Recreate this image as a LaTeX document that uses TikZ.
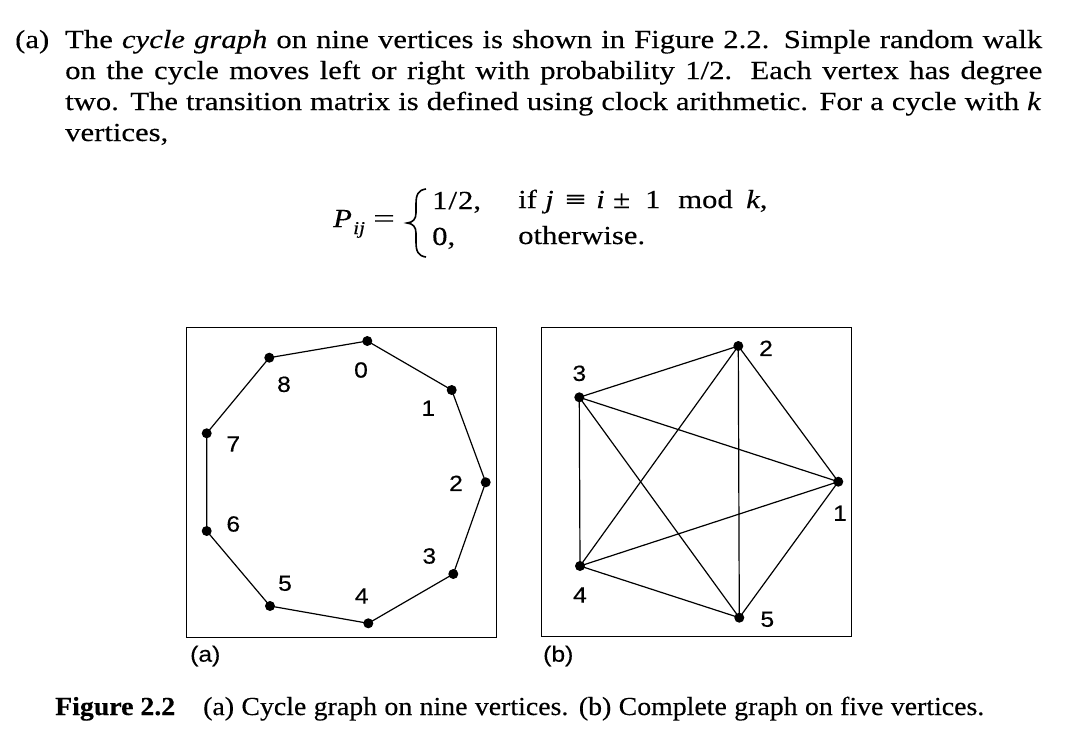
\documentclass[tikz,border=0pt]{standalone}
\usepackage{fontspec}
\usepackage{graphicx}
\setmainfont{Liberation Serif}[FakeStretch=1.18,FakeBold=0.3]
\newfontfamily\capfont{Liberation Serif}[FakeStretch=1.07,FakeBold=0.3]
\newfontfamily\lblfont{Liberation Sans}[FakeStretch=1.12,FakeBold=0.3]
\tikzset{
  body/.style={anchor=base west, inner sep=0pt, font=\fontsize{26}{31}\selectfont},
  subtxt/.style={anchor=base west, inner sep=0pt, font=\fontsize{18}{20}\selectfont\itshape},
  captxt/.style={anchor=base west, inner sep=0pt, font=\capfont\fontsize{26}{31}\selectfont},
  vtx/.style={circle, fill=black, inner sep=0pt, minimum size=10pt},
  lbl/.style={inner sep=0pt, font=\lblfont\fontsize{22}{26}\selectfont},
  edge/.style={line width=1.2pt},
  frame/.style={line width=1pt},
  bracestyle/.style={line width=1.6pt}
}
\begin{document}
\begin{tikzpicture}[x=1pt,y=-1pt]
\useasboundingbox (0,0) rectangle (1068,742);
% paragraph
\node[body] (t1a) at (15,48) {(a)};
\node[body] (t1) at (65,48) {\makebox[977pt][s]{The \textit{cycle graph} on nine vertices is shown in Figure 2.2. Simple random walk}};
\node[body] (t2) at (65,79) {\makebox[977pt][s]{on the cycle moves left or right with probability 1/2. Each vertex has degree}};
\node[body] (t3) at (65,110) {\makebox[976pt][s]{two. The transition matrix is defined using clock arithmetic. For a cycle with \textit{k}}};
\node[body] (t4) at (65,141) {vertices,};
% equation
\node[body] (eP) at (333,227) {\textit{P}};
\node[subtxt] (eij) at (353,234) {ij};
\node[body] (eeq) at (373,227) {\scalebox{1.25}[1]{=}};
\draw[bracestyle] (426,189) .. controls (418,190) and (416,195) .. (416,204) -- (416,213)
  .. controls (416,219) and (413,222.5) .. (407,223)
  .. controls (413,223.5) and (416,227) .. (416,233) -- (416,242)
  .. controls (416,251) and (418,256) .. (426,257);
\node[body] (ea) at (432,209) {1\kern1pt/\kern1pt2,};
\node[body] (eb) at (432,245) {0,};
\node[body] (eif) at (518,208) {if};
\node[body] (ej) at (545,208) {\textit{j}};
\node[body] (eeqv) at (565,208) {\scalebox{1.2}[1]{≡}};
\node[body] (ei) at (596,208) {\textit{i}};
\node[body] (epm) at (613,208) {±};
\node[body] (eone) at (645,208) {1};
\node[body] (emod) at (678,208) {mod};
\node[body] (ek) at (746,208) {\textit{k},};
\node[body] (eoth) at (518,244) {otherwise.};
% box (a)
\draw[frame] (186.5,327) rectangle (496.5,637);
\node[vtx] (a0) at (367.3,341) {};
\node[vtx] (a1) at (451.7,390) {};
\node[vtx] (a2) at (485.7,482.3) {};
\node[vtx] (a3) at (453.3,574) {};
\node[vtx] (a4) at (368.3,623.3) {};
\node[vtx] (a5) at (270,606) {};
\node[vtx] (a6) at (206.7,531) {};
\node[vtx] (a7) at (206.7,433.3) {};
\node[vtx] (a8) at (269.3,357.7) {};
\draw[edge] (a0.center) -- (a1.center) -- (a2.center) -- (a3.center) -- (a4.center)
  -- (a5.center) -- (a6.center) -- (a7.center) -- (a8.center) -- (a0.center);
\node[lbl] (la0) at (361,370) {0};
\node[lbl] (la1) at (428.3,408.3) {1};
\node[lbl] (la2) at (456,483.3) {2};
\node[lbl] (la3) at (429.3,556) {3};
\node[lbl] (la4) at (361.7,596) {4};
\node[lbl] (la5) at (285,583.3) {5};
\node[lbl] (la6) at (233.3,524) {6};
\node[lbl] (la7) at (233.3,444) {7};
\node[lbl] (la8) at (284,384.3) {8};
\node[lbl, anchor=west] (capa) at (190,656) {(a)};
% box (b)
\draw[frame] (541.5,327) rectangle (851,636.5);
\node[vtx] (b1) at (838.3,481.7) {};
\node[vtx] (b2) at (738.3,346) {};
\node[vtx] (b3) at (579.3,397.3) {};
\node[vtx] (b4) at (580,566) {};
\node[vtx] (b5) at (739.3,617.7) {};
\foreach \u/\v in {1/2,1/3,1/4,1/5,2/3,2/4,2/5,3/4,3/5,4/5}
  \draw[edge] (b\u.center) -- (b\v.center);
\node[lbl] (lb1) at (840,513.3) {1};
\node[lbl] (lb2) at (766,348.3) {2};
\node[lbl] (lb3) at (579.3,373.3) {3};
\node[lbl] (lb4) at (580,595) {4};
\node[lbl] (lb5) at (767.3,619.3) {5};
\node[lbl, anchor=west] (capb) at (543,656) {(b)};
% caption
\node[captxt] (cfig) at (55,715) {\textbf{Figure 2.2}};
\node[captxt] (ctxt) at (203,715) {\makebox[781pt][s]{(a) Cycle graph on nine vertices. (b) Complete graph on five vertices.}};
\end{tikzpicture}
\end{document}
